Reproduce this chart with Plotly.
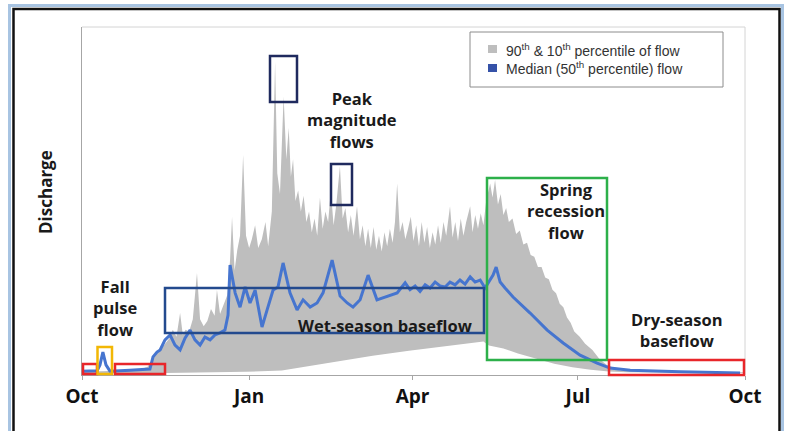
import plotly.graph_objects as go

# ---------------- data (day of water year, discharge in relative units) -------------
TICK_DAYS = [0, 92, 182, 273, 365]
TICK_LABELS = ["Oct", "Jan", "Apr", "Jul", "Oct"]

# 90th percentile (upper edge of grey band)
P90_DAY = [0, 10, 20, 30, 36, 39, 42, 45, 48, 50,
           52, 54, 55.5, 57, 59, 61, 63.3, 65, 67, 69,
           71, 73, 74.3, 76, 78, 80, 81.5, 82.6, 84, 85.5,
           87, 88.7, 90.3, 92, 93.5, 95.3, 97, 99, 101, 102.5,
           104.5, 106.3, 107.5, 109, 111, 112.5, 113.8, 115, 116.2, 117.5,
           119, 120.5, 122, 123.5, 125, 126.5, 128, 129.5, 131, 132.5,
           134, 135.5, 137, 138.5, 140, 142, 143.5, 145, 146.5, 148,
           149.5, 151.4, 153, 154.5, 156, 157.5, 159, 160.5, 162, 163.5,
           165, 166.5, 168, 169.5, 171, 172.3, 173.5, 175, 176.5, 178,
           179.5, 181, 182.5, 184, 185.5, 187, 188.5, 190, 191.5, 193,
           194.5, 196, 197.5, 199, 200.5, 202.6, 204, 205.5, 207, 208.5,
           210, 211.5, 213.7, 215, 216.5, 218, 219.5, 221, 222.5, 224.7,
           226, 227.4, 229, 230.5, 232, 233.5, 235, 237, 239, 241,
           243, 245, 247, 249, 251, 253, 255, 257, 259, 261,
           263, 265, 267, 269, 271, 274, 277, 281, 285, 289,
           293, 296, 305, 320, 340, 365]
P90_VAL = [0.9, 1.1, 1.1, 1.4, 2.3, 4.5, 7.0, 8.5, 10.5, 13.0,
           11.0, 17.8, 11.5, 13.0, 12.5, 16.0, 29.3, 16.0, 14.0, 15.5,
           19.0, 17.0, 24.4, 17.5, 20.0, 23.0, 33.0, 45.4, 30.0, 36.0,
           40.0, 63.2, 40.0, 36.5, 39.0, 43.0, 36.5, 39.0, 44.0, 37.0,
           47.0, 90.0, 58.0, 52.0, 80.0, 62.0, 71.0, 57.0, 62.0, 50.0,
           53.0, 47.0, 51.5, 44.0, 47.0, 41.0, 45.0, 40.0, 51.0, 42.0,
           47.0, 44.0, 53.0, 43.0, 49.0, 60.0, 45.0, 48.0, 41.0, 46.0,
           40.0, 48.5, 39.0, 43.0, 37.0, 42.0, 36.5, 42.5, 36.0, 40.0,
           35.5, 41.0, 37.0, 42.0, 38.0, 44.0, 55.0, 41.0, 44.0, 39.0,
           42.0, 45.5, 38.5, 43.0, 37.0, 44.0, 38.0, 42.5, 36.5, 41.0,
           37.5, 43.0, 38.0, 44.0, 40.0, 48.5, 39.5, 44.0, 38.5, 45.0,
           40.0, 44.0, 48.5, 41.0, 46.0, 42.0, 46.5, 43.0, 50.0, 55.0,
           51.0, 56.0, 49.0, 52.0, 46.0, 48.0, 44.0, 45.0, 40.5, 41.5,
           37.5, 38.0, 34.5, 34.0, 31.0, 31.0, 28.0, 27.5, 24.5, 23.5,
           20.5, 19.5, 16.5, 15.0, 12.5, 11.0, 9.0, 7.2, 4.5, 2.9,
           2.0, 1.4, 1.2, 1.0, 0.9, 0.8]

# 10th percentile (lower edge of grey band)
P10_DAY = [0, 37, 60, 90, 110, 125, 140, 160, 180, 200, 215,
           221, 224, 232, 240, 250, 260, 270, 280, 290, 300, 365]
P10_VAL = [0.5, 0.5, 0.7, 0.9, 1.3, 2.5, 3.8, 5.5, 7.0, 8.4, 9.2,
           9.6, 8.5, 7.6, 6.2, 4.6, 3.2, 2.2, 1.5, 1.0, 0.8, 0.6]

# median (50th percentile)
P50_DAY = [0, 4.4, 8.3, 9.9, 11.5, 13.2, 15.4, 26.4, 37.4, 39.1,
           41.3, 43.0, 45.7, 48.5, 51.2, 54.0, 56.7, 59.5, 62.2, 65.0,
           67.7, 70.5, 73.2, 76.0, 78.7, 80.4, 81.5, 84.3, 87.0, 89.8,
           92.5, 95.3, 99.1, 101.9, 105.2, 107.9, 110.7, 114.5, 118.4, 121.7,
           125.6, 129.4, 132.7, 137.7, 142.1, 146.0, 149.2, 153.1, 157.5, 162.4,
           168.0, 173.5, 177.9, 180.6, 183.4, 186.1, 188.9, 191.6, 194.4, 197.1,
           199.9, 202.6, 205.4, 208.1, 210.9, 213.7, 216.4, 219.2, 221.9, 224.7,
           226.3, 228.0, 230.2, 232.9, 237.3, 246.7, 256.1, 264.9, 274.2, 283.6,
           290.7, 301.8, 329.3, 362.3]
P50_VAL = [1.1, 1.1, 1.2, 2.9, 6.6, 2.9, 1.1, 1.4, 1.7, 5.2,
           6.6, 7.2, 10.1, 11.5, 8.6, 7.2, 10.6, 12.9, 10.1, 8.6,
           10.9, 10.1, 11.5, 12.1, 12.9, 17.2, 31.6, 23.6, 19.5, 25.3,
           20.7, 24.4, 13.8, 18.7, 24.4, 25.3, 32.2, 23.6, 18.7, 21.6,
           19.5, 20.7, 23.6, 33.0, 22.7, 20.7, 19.5, 21.6, 28.7, 21.6,
           22.7, 23.6, 26.5, 24.5, 25.6, 24.0, 25.9, 25.0, 26.7, 25.6,
           25.3, 26.7, 25.9, 27.3, 26.1, 28.2, 26.7, 27.3, 25.0, 27.3,
           28.7, 31.0, 26.7, 25.0, 22.4, 17.8, 12.9, 9.2, 5.7, 3.4,
           2.0, 1.4, 0.9, 0.6]

# ---------------- layout helpers (pixel -> paper) ----------------
W, H = 787, 431
L, R, T, B = 82, 745, 27, 375


def px(x):
    return (x - L) / (R - L)


def py(y):
    return (B - y) / (B - T)


fig = go.Figure()

band_x = P90_DAY + P10_DAY[::-1]
band_y = P90_VAL + P10_VAL[::-1]
fig.add_trace(go.Scatter(x=band_x, y=band_y, fill="toself", mode="lines",
                         line=dict(width=0, color="#BEBEBE"),
                         fillcolor="#BEBEBE", hoverinfo="skip",
                         name="90th & 10th percentile of flow", showlegend=False))
fig.add_trace(go.Scatter(x=P50_DAY, y=P50_VAL, mode="lines",
                         line=dict(color="#4675CF", width=3),
                         name="Median (50th percentile) flow", showlegend=False))

shapes = []


def rect(x0, y0, x1, y1, color, width=2):
    shapes.append(dict(type="rect", xref="paper", yref="paper",
                       x0=px(x0), x1=px(x1), y0=py(y1), y1=py(y0),
                       line=dict(color=color, width=width),
                       fillcolor="rgba(0,0,0,0)", layer="above"))


def line(x0, y0, x1, y1, color, width=1):
    shapes.append(dict(type="line", xref="paper", yref="paper",
                       x0=px(x0), x1=px(x1), y0=py(y0), y1=py(y1),
                       line=dict(color=color, width=width), layer="above"))


# outer window frame
rect(9.5, 5.5, 782.5, 440, "#A8C4E2", 3)
rect(13.5, 9, 779.5, 440, "#111111", 2.5)
# faint plot-area frame (top & right)
line(L, T, R, T, "#D4D4D4", 1)
line(R, T, R, B, "#D4D4D4", 1)

# highlight boxes
rect(270, 56, 297, 102, "#1F2A5E", 2.5)
rect(331, 164, 352, 205, "#1F2A5E", 2.5)
rect(165, 288, 484, 333, "#234A8E", 2.5)
rect(487, 178, 607, 360, "#2DB04A", 2.5)
rect(609, 360, 744, 375, "#E8262A", 2.5)
rect(83, 364, 97, 374, "#E8262A", 2.5)
rect(115, 364, 165, 374, "#E8262A", 2.5)
rect(97.5, 347, 112, 374, "#F2B705", 2.5)

# legend box
rect(470, 32, 723, 87, "#8C8C8C", 1)
shapes.append(dict(type="rect", xref="paper", yref="paper",
                   x0=px(488), x1=px(497), y0=py(53), y1=py(45),
                   line=dict(width=0), fillcolor="#BEBEBE"))
shapes.append(dict(type="rect", xref="paper", yref="paper",
                   x0=px(488), x1=px(497), y0=py(72), y1=py(64),
                   line=dict(width=0), fillcolor="#3552A8"))

annotations = []


def text(x, y, s, size=16, bold=True, anchor="center", color="#1A1A1A",
         family="Open Sans", angle=0):
    annotations.append(dict(xref="paper", yref="paper", x=px(x), y=py(y),
                            text=f"<b>{s}</b>" if bold else s,
                            showarrow=False, xanchor=anchor, yanchor="middle",
                            align="center", textangle=angle,
                            font=dict(size=size, color=color, family=family)))


text(352, 120, "Peak<br>magnitude<br>flows", size=16.5)
text(115, 308, "Fall<br>pulse<br>flow", size=16.5)
text(385, 325, "Wet-season baseflow", size=16.5)
text(566, 211, "Spring<br>recession<br>flow", size=16.5)
text(677, 330, "Dry-season<br>baseflow", size=16.5)
text(45, 192, "Discharge", size=17, angle=-90)
text(504, 50, "90<sup>th</sup> &amp; 10<sup>th</sup> percentile of flow", size=14,
     bold=False, anchor="left", color="#333333", family="Liberation Sans")
text(504, 68, "Median (50<sup>th</sup> percentile) flow", size=14,
     bold=False, anchor="left", color="#333333", family="Liberation Sans")

fig.update_layout(
    width=W, height=H,
    margin=dict(l=L, r=W - R, t=T, b=H - B, pad=0),
    paper_bgcolor="white", plot_bgcolor="white",
    showlegend=False,
    shapes=shapes, annotations=annotations,
    xaxis=dict(range=[0, 365], tickvals=TICK_DAYS,
               ticktext=[f"<b>{t}</b>" for t in TICK_LABELS],
               showgrid=False, zeroline=False, showline=True,
               linecolor="#A6A6A6", linewidth=1, ticks="outside",
               ticklen=4, tickcolor="#A6A6A6",
               tickfont=dict(family="Open Sans", size=19, color="#111111")),
    yaxis=dict(range=[0, 100], showgrid=False, zeroline=False, showline=True,
               linecolor="#A6A6A6", linewidth=1, showticklabels=False,
               ticks=""),
)

fig.write_html("out.html",
               config={"displayModeBar": False},
               post_script="document.body.style.margin='0';"
                           "document.body.style.overflow='hidden';")
